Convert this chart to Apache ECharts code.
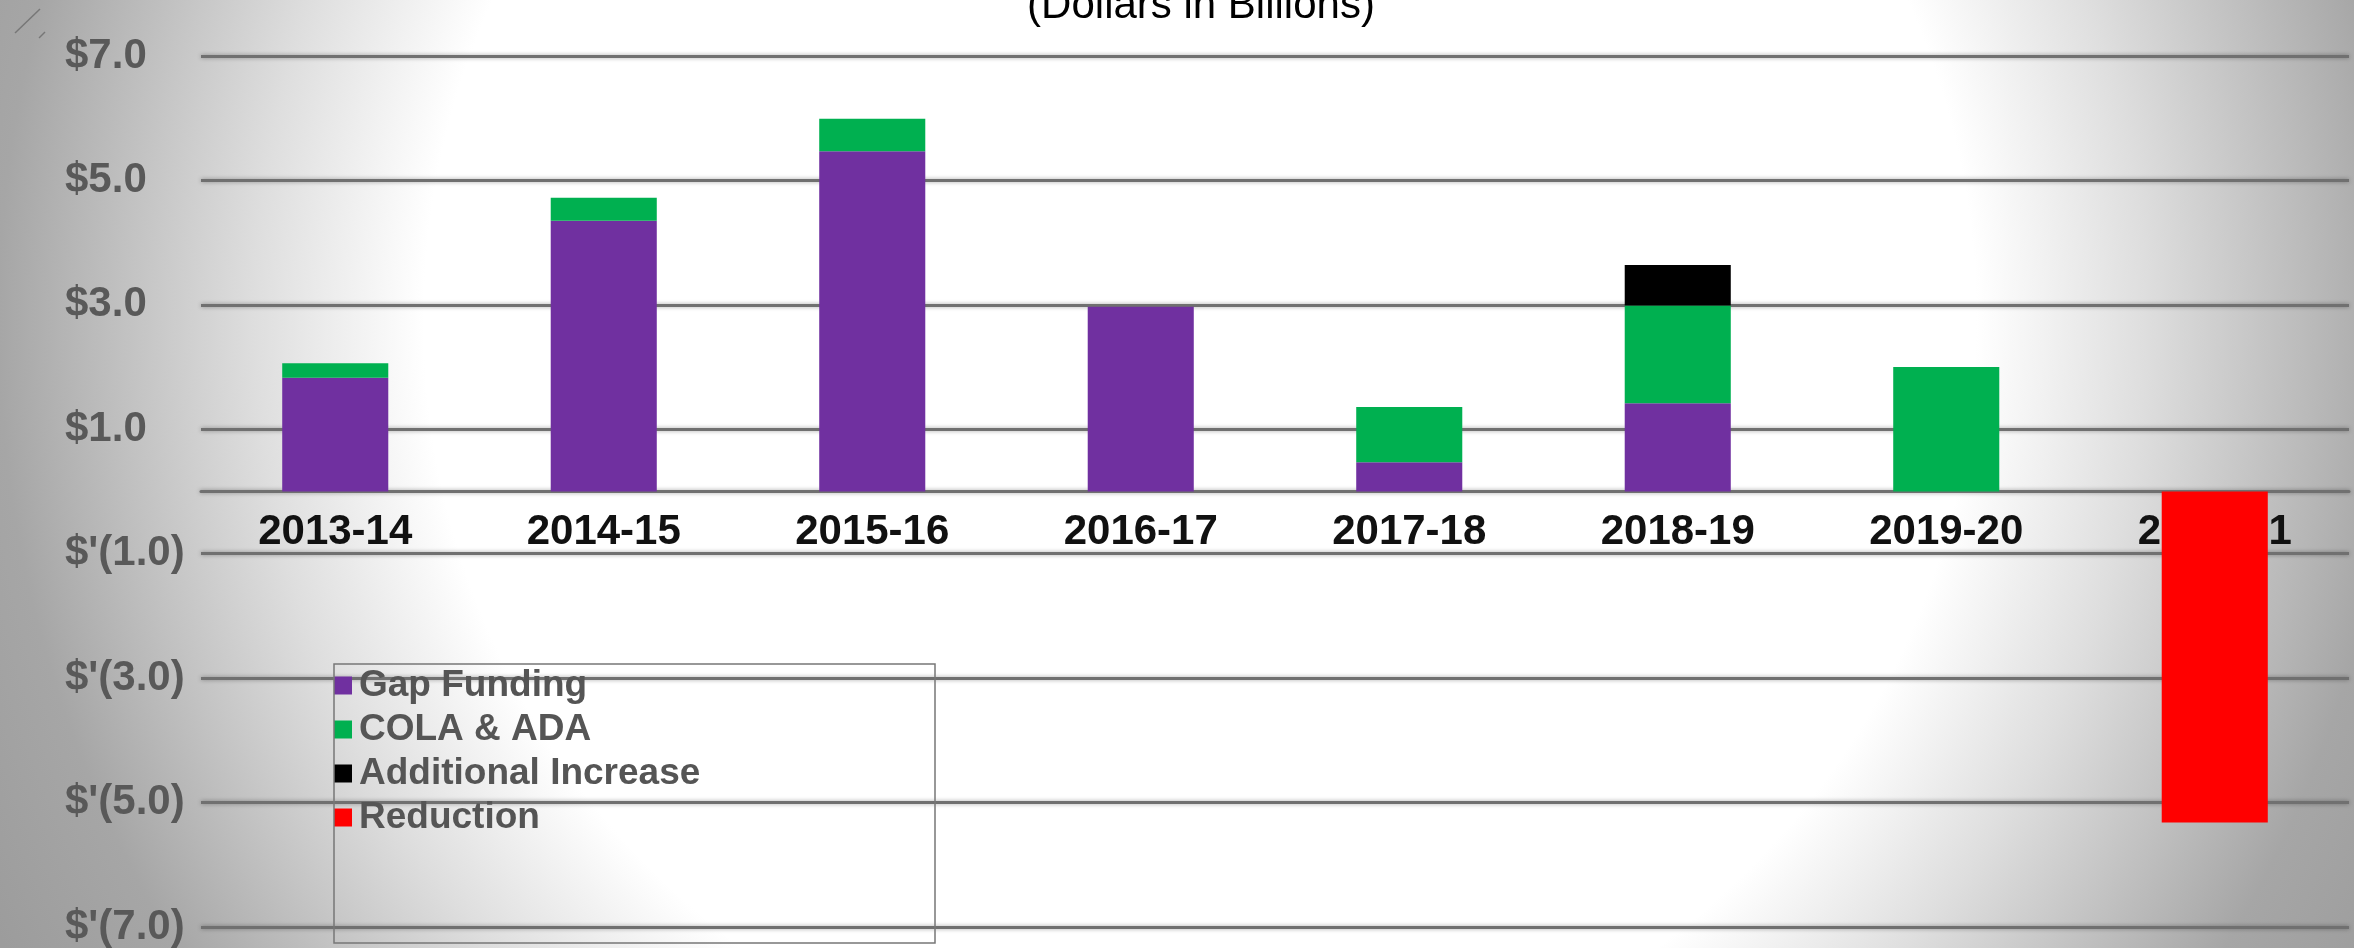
<!DOCTYPE html>
<html>
<head>
<meta charset="utf-8">
<script src="https://cdn.jsdelivr.net/npm/echarts@6/dist/echarts.min.js"></script>
<style>
html,body{margin:0;padding:0;}
#chart{width:2354px;height:948px;}
</style>
</head>
<body>
<div id="chart"></div>
<script>
// ---- data ----
const categories = ['2013-14','2014-15','2015-16','2016-17','2017-18','2018-19','2019-20','2020-21'];
const gapFunding = [1.83, 4.35, 5.47, 2.97, 0.47, 1.42, 0, 0];
const colaAda = [0.23, 0.37, 0.52, 0, 0.89, 1.57, 2.0, 0];
const additionalIncrease = [0, 0, 0, 0, 0, 0.65, 0, 0];
const reduction = [0, 0, 0, 0, 0, 0, 0, -5.32];
const yTickValues = [-7, -5, -3, -1, 1, 3, 5, 7];
const yTickLabels = ["$'(7.0)", "$'(5.0)", "$'(3.0)", "$'(1.0)", '$1.0', '$3.0', '$5.0', '$7.0'];
const seriesNames = ['Gap Funding', 'COLA & ADA', 'Additional Increase', 'Reduction'];
const titleText = '(Dollars in Billions)';

const FONT = "'Liberation Sans', Arial, sans-serif";
const chart = echarts.init(document.getElementById('chart'), null, {renderer: 'canvas'});

const GRID_TOP = 56, GRID_BOTTOM = 21, H = 948;
const Y_MIN = -7, Y_MAX = 7;
// pixel offset so the category axis sits on value 0
const plotH = H - GRID_TOP - GRID_BOTTOM;
const zeroOffset = -plotH * (0 - Y_MIN) / (Y_MAX - Y_MIN);

function bar(name, data, color) {
  return {
    name: name, type: 'bar', stack: 'total', data: data,
    barWidth: '39.5%', z: 3,
    itemStyle: {color: color},
    emphasis: {disabled: true}
  };
}

const gridLineStyle = {color: '#707070', width: 3, shadowBlur: 4, shadowColor: 'rgba(0,0,0,0.35)'};

const option = {
  animation: false,
  backgroundColor: {
    type: 'radial', x: 1200, y: 320, r: 1350, global: true,
    colorStops: [
      {offset: 0, color: '#ffffff'},
      {offset: 0.575, color: '#ffffff'},
      {offset: 0.70, color: '#dedede'},
      {offset: 0.89, color: '#a6a6a6'},
      {offset: 1, color: '#9c9c9c'}
    ]
  },
  grid: {left: 201, right: 5, top: GRID_TOP, bottom: GRID_BOTTOM, containLabel: false, outerBoundsMode: 'none'},
  legend: {
    orient: 'vertical', left: 334, top: 667,
    padding: 0, itemGap: 7, itemWidth: 18, itemHeight: 18,
    icon: 'rect', selectedMode: false,
    data: seriesNames,
    textStyle: {fontFamily: FONT, fontSize: 37, fontWeight: 'bold', color: '#555555', padding: [0,0,0,2]}
  },
  xAxis: {
    type: 'category', data: categories,
    position: 'bottom', offset: zeroOffset,
    axisTick: {show: false},
    axisLine: {onZero: false, lineStyle: gridLineStyle},
    axisLabel: {fontFamily: FONT, fontSize: 42, fontWeight: 'bold', color: '#111111', margin: 20, interval: 0},
    z: 1
  },
  yAxis: {
    type: 'value', min: Y_MIN, max: Y_MAX, interval: 2,
    axisLine: {show: false}, axisTick: {show: false},
    splitLine: {show: true, lineStyle: gridLineStyle},
    axisLabel: {
      fontFamily: FONT, fontSize: 42, fontWeight: 'bold', color: '#595959',
      align: 'left', margin: 136,
      formatter: function (v) {
        const i = yTickValues.indexOf(Math.round(v));
        return i >= 0 ? yTickLabels[i] : '';
      }
    }
  },
  series: [
    bar(seriesNames[0], gapFunding, '#7030A0'),
    bar(seriesNames[1], colaAda, '#00B050'),
    bar(seriesNames[2], additionalIncrease, '#000000'),
    bar(seriesNames[3], reduction, '#FF0000')
  ],
  graphic: [
    {type: 'text', x: 1201, y: 6, z: 10, silent: true,
      style: {text: titleText, font: '42px ' + FONT, fill: '#000000', textAlign: 'center', textVerticalAlign: 'middle'}},
    {type: 'rect', shape: {x: 334, y: 664, width: 601, height: 279}, z: 10, silent: true,
      style: {fill: 'none', stroke: '#777777', lineWidth: 1.5}},
    {type: 'line', shape: {x1: 40, y1: 9, x2: 15, y2: 33}, silent: true, style: {stroke: '#777777', lineWidth: 1.5}},
    {type: 'line', shape: {x1: 45, y1: 32, x2: 39, y2: 38}, silent: true, style: {stroke: '#777777', lineWidth: 1.5}}
  ]
};
chart.setOption(option);
</script>
</body>
</html>
